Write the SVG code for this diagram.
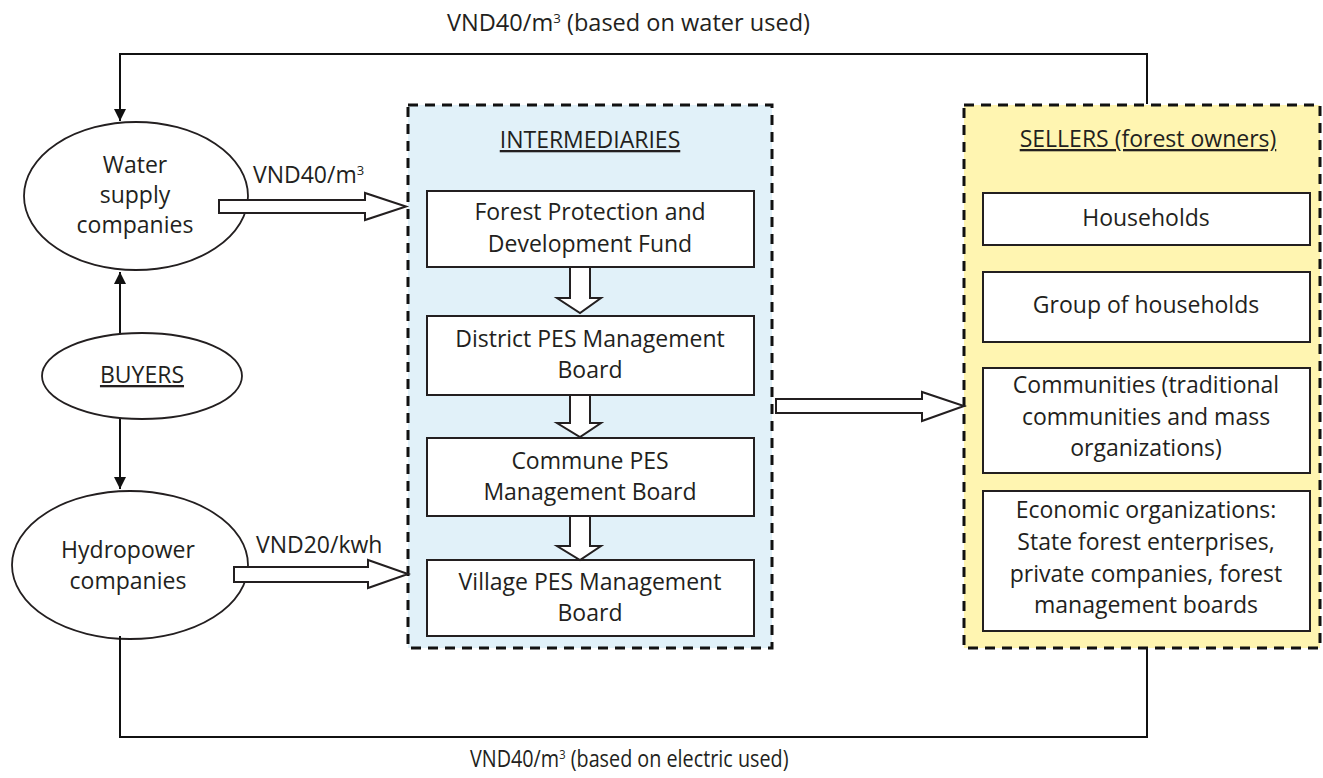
<svg xmlns="http://www.w3.org/2000/svg" width="1323" height="778" viewBox="0 0 1323 778">
<style>
text{font-family:"Open Sans","Noto Sans",sans-serif;font-size:23px;fill:#231f20;text-anchor:middle}
.box{fill:#fff;stroke:#231f20;stroke-width:2}
.ell{fill:#fff;stroke:#231f20;stroke-width:1.8}
.dash{stroke:#111;stroke-width:3;stroke-dasharray:10,7}
.line{fill:none;stroke:#111;stroke-width:2}
.harrow{fill:#fff;stroke:#231f20;stroke-width:2;stroke-linejoin:miter}
.sup{font-size:13px}
.st{text-anchor:start}
</style>
<defs>
<marker id="ah" viewBox="0 0 10 10" refX="10" refY="5" markerWidth="12" markerHeight="12" markerUnits="userSpaceOnUse" orient="auto">
<path d="M0,0 L10,5 L0,10 z" fill="#111"/>
</marker>
</defs>
<rect width="1323" height="778" fill="#fff"/>

<g id="intermediaries">
<rect x="408" y="105" width="364" height="543" fill="#e1f1f9" class="dash"/>
<text x="590" y="148" text-decoration="underline">INTERMEDIARIES</text>
</g>
<g id="sellers">
<rect x="964" y="105" width="356" height="543" fill="#fff5b1" class="dash"/>
<text x="1148" y="147" text-decoration="underline">SELLERS (forest owners)</text>
</g>

<g id="fund"><rect class="box" x="427" y="191" width="327" height="76"/><text x="590" y="220">Forest Protection and</text><text x="590" y="252">Development Fund</text></g>
<g id="district"><rect class="box" x="427" y="316" width="327" height="79"/><text x="590" y="347">District PES Management</text><text x="590" y="378">Board</text></g>
<g id="commune"><rect class="box" x="427" y="438" width="327" height="78"/><text x="590" y="469">Commune PES</text><text x="590" y="500">Management Board</text></g>
<g id="village"><rect class="box" x="427" y="560" width="327" height="76"/><text x="590" y="590">Village PES Management</text><text x="590" y="621">Board</text></g>

<g id="households"><rect class="box" x="983" y="193" width="327" height="52"/><text x="1146" y="226">Households</text></g>
<g id="group"><rect class="box" x="983" y="272" width="327" height="70"/><text x="1146" y="313">Group of households</text></g>
<g id="communities"><rect class="box" x="983" y="368" width="327" height="105"/><text x="1146" y="393">Communities (traditional</text><text x="1146" y="425">communities and mass</text><text x="1146" y="456">organizations)</text></g>
<g id="economic"><rect class="box" x="983" y="491" width="327" height="140"/><text x="1146" y="518">Economic organizations:</text><text x="1146" y="550">State forest enterprises,</text><text x="1146" y="582">private companies, forest</text><text x="1146" y="613">management boards</text></g>

<g id="water"><ellipse class="ell" cx="136" cy="196" rx="112" ry="74"/><text x="135" y="173">Water</text><text x="135" y="203">supply</text><text x="135" y="233">companies</text></g>
<g id="buyers"><ellipse class="ell" cx="142" cy="376" rx="100" ry="43"/><text x="142" y="383" text-decoration="underline">BUYERS</text></g>
<g id="hydro"><ellipse class="ell" cx="130" cy="565" rx="118" ry="74"/><text x="128" y="558">Hydropower</text><text x="128" y="589">companies</text></g>

<g id="connectors">
<path class="line" d="M1147,104 V54 H120 V121" marker-end="url(#ah)"/>
<path class="line" d="M120,333 V272" marker-end="url(#ah)"/>
<path class="line" d="M120,419 V489" marker-end="url(#ah)"/>
<path class="line" d="M120,636 V737 H1147 V649"/>
<path class="harrow" d="M219,200 H365 V193 L406,206.5 L365,220 V213 H219 Z"/>
<path class="harrow" d="M234,567 H368 V560 L408,574 L368,588 V582 H234 Z"/>
<path class="harrow" d="M776,399 H922 V392 L964,406 L922,421 V413 H776 Z"/>
<path class="harrow" d="M570,267 V298 H557 L580,313 L601,298 H590 V267 Z"/>
<path class="harrow" d="M570,395 V423 H557 L580,437 L601,423 H590 V395 Z"/>
<path class="harrow" d="M570,516 V546 H557 L580,560 L601,546 H590 V516 Z"/>
</g>

<g id="labels">
<text class="st" x="447" y="31" textLength="363" lengthAdjust="spacingAndGlyphs">VND40/m<tspan class="sup" dy="-8">3</tspan><tspan dy="8"> (based on water used)</tspan></text>
<text class="st" x="253" y="183">VND40/m<tspan class="sup" dy="-8">3</tspan></text>
<text class="st" x="256" y="553">VND20/kwh</text>
<text class="st" transform="translate(470,767) scale(0.86,1)">VND40/m<tspan class="sup" dy="-8">3</tspan><tspan dy="8">  (based on electric used)</tspan></text>
</g>
</svg>
